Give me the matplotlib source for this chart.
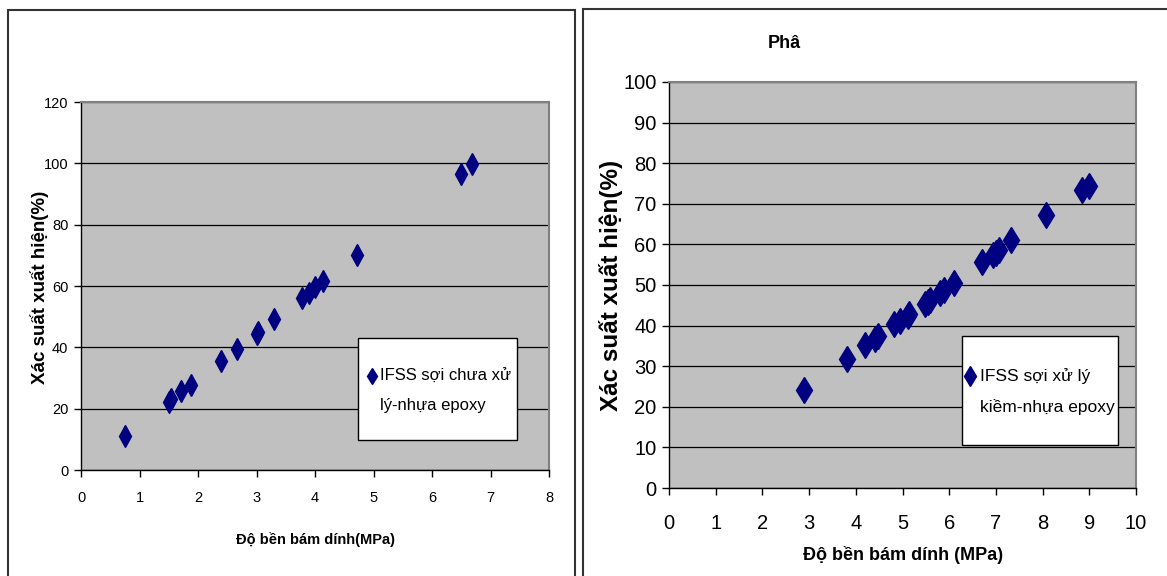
import numpy as np
import matplotlib.pyplot as plt
from matplotlib.patches import Rectangle

plt.rcParams['font.family'] = ['Liberation Sans', 'DejaVu Sans']

# left chart: untreated fibre
strength_a = [0.75, 1.50, 1.54, 1.71, 1.88, 2.40, 2.66, 3.00, 3.02, 3.30,
              3.77, 3.90, 4.00, 4.14, 4.71, 6.49, 6.69]
prob_a = [11.0, 22.2, 23.0, 25.9, 27.8, 35.7, 39.3, 44.2, 45.1, 49.3,
          56.1, 57.8, 59.6, 61.5, 70.1, 96.6, 99.7]
label_a = ['IFSS sợi chưa xử', 'lý-nhựa epoxy']

# right chart: alkali treated fibre
strength_b = [2.90, 3.82, 4.19, 4.42, 4.48, 4.82, 4.94, 5.11, 5.14, 5.48,
              5.54, 5.58, 5.80, 5.88, 6.10, 6.70, 6.94, 7.00, 7.06, 7.32,
              8.07, 8.84, 9.00]
prob_b = [24.2, 31.8, 35.1, 36.8, 37.4, 40.3, 41.1, 42.4, 42.8, 45.2,
          45.9, 46.3, 48.1, 48.7, 50.6, 55.6, 57.4, 57.9, 58.7, 61.0,
          67.2, 73.5, 74.4]
label_b = ['IFSS sợi xử lý', 'kiềm-nhựa epoxy']

ylabel = 'Xác suất xuất hiện(%)'

W, H = 1167, 576
fig = plt.figure(figsize=(W / 100, H / 100), dpi=100)


def px_axes(x0, y0, x1, y1):
    return fig.add_axes([x0 / W, 1 - y1 / H, (x1 - x0) / W, (y1 - y0) / H])


def style(ax, xmax, ymax, ystep, tick_fs, xpad):
    ax.set_facecolor('#C0C0C0')
    ax.set_xlim(0, xmax)
    ax.set_ylim(0, ymax)
    ax.set_xticks(np.arange(0, xmax + 1, 1))
    ax.set_yticks(np.arange(0, ymax + 1, ystep))
    ax.yaxis.grid(True, color='black', linewidth=0.9)
    ax.set_axisbelow(True)
    for s in ['top', 'right']:
        ax.spines[s].set_color('#808080')
        ax.spines[s].set_linewidth(1.5)
    for s in ['left', 'bottom']:
        ax.spines[s].set_linewidth(1.0)
    ax.tick_params(direction='out', length=5, width=1, labelsize=tick_fs, pad=4)
    ax.tick_params(axis='x', pad=xpad)


def fake_legend(ax, box, mx, tx, ys, lines, fs, ms):
    x0, y0, x1, y1 = box
    ax.add_patch(Rectangle((x0, y0), x1 - x0, y1 - y0, transform=ax.transAxes,
                           facecolor='white', edgecolor='black', linewidth=1.0,
                           zorder=5, clip_on=False))
    ax.plot([mx], [ys[0]], marker='d', color='#000080', markersize=ms,
            transform=ax.transAxes, zorder=6, clip_on=False)
    for y, t in zip(ys, lines):
        ax.text(tx, y, t, transform=ax.transAxes, fontsize=fs,
                va='center', ha='left', zorder=6)


# panel frames
fig.patches.append(Rectangle((8 / W, -0.1), (575 - 8) / W, 1.1 - 10 / H,
                             transform=fig.transFigure, fill=False,
                             edgecolor='#333333', linewidth=1.5))
fig.patches.append(Rectangle((583 / W, -0.1), 1.0, 1.1 - 9 / H,
                             transform=fig.transFigure, fill=False,
                             edgecolor='#333333', linewidth=1.5))

# left
ax1 = px_axes(81, 102, 549, 470)
style(ax1, 8, 120, 20, 10.5, 10)
ax1.plot(strength_a, prob_a, linestyle='none', marker='d', color='#000080',
         markersize=11, zorder=3)
ax1.set_xlabel('Độ bền bám dính(MPa)', fontsize=10.5, fontweight='bold')
ax1.xaxis.set_label_coords((315 - 81) / 468, -(540 - 470) / 368)
ax1.xaxis.label.set_va('center')
ax1.set_ylabel(ylabel, fontsize=13.5, fontweight='bold')
ax1.yaxis.set_label_coords((40 - 81) / 468, 0.495)
ax1.yaxis.label.set_va('center')
fake_legend(ax1, (0.592, 0.082, 0.932, 0.359), 0.622, 0.639, (0.255, 0.175),
            label_a, 12, 8)

# right
ax2 = px_axes(669, 82, 1136, 488)
style(ax2, 10, 100, 10, 14.5, 14)
ax2.plot(strength_b, prob_b, linestyle='none', marker='d', color='#000080',
         markersize=13, zorder=3)
ax2.set_xlabel('Độ bền bám dính (MPa)', fontsize=13, fontweight='bold')
ax2.xaxis.set_label_coords((903 - 669) / 467, -(555 - 488) / 406)
ax2.xaxis.label.set_va('center')
ax2.set_ylabel(ylabel, fontsize=17.5, fontweight='bold')
ax2.yaxis.set_label_coords((611 - 669) / 467, 0.5)
ax2.yaxis.label.set_va('center')
fake_legend(ax2, (0.627, 0.106, 0.961, 0.374), 0.645, 0.666, (0.276, 0.199),
            label_b, 12.5, 10)
fig.text(768 / W, 1 - 43 / H, 'Phâ', fontsize=13, fontweight='bold', va='center')

fig.savefig('out.png', dpi=100)
